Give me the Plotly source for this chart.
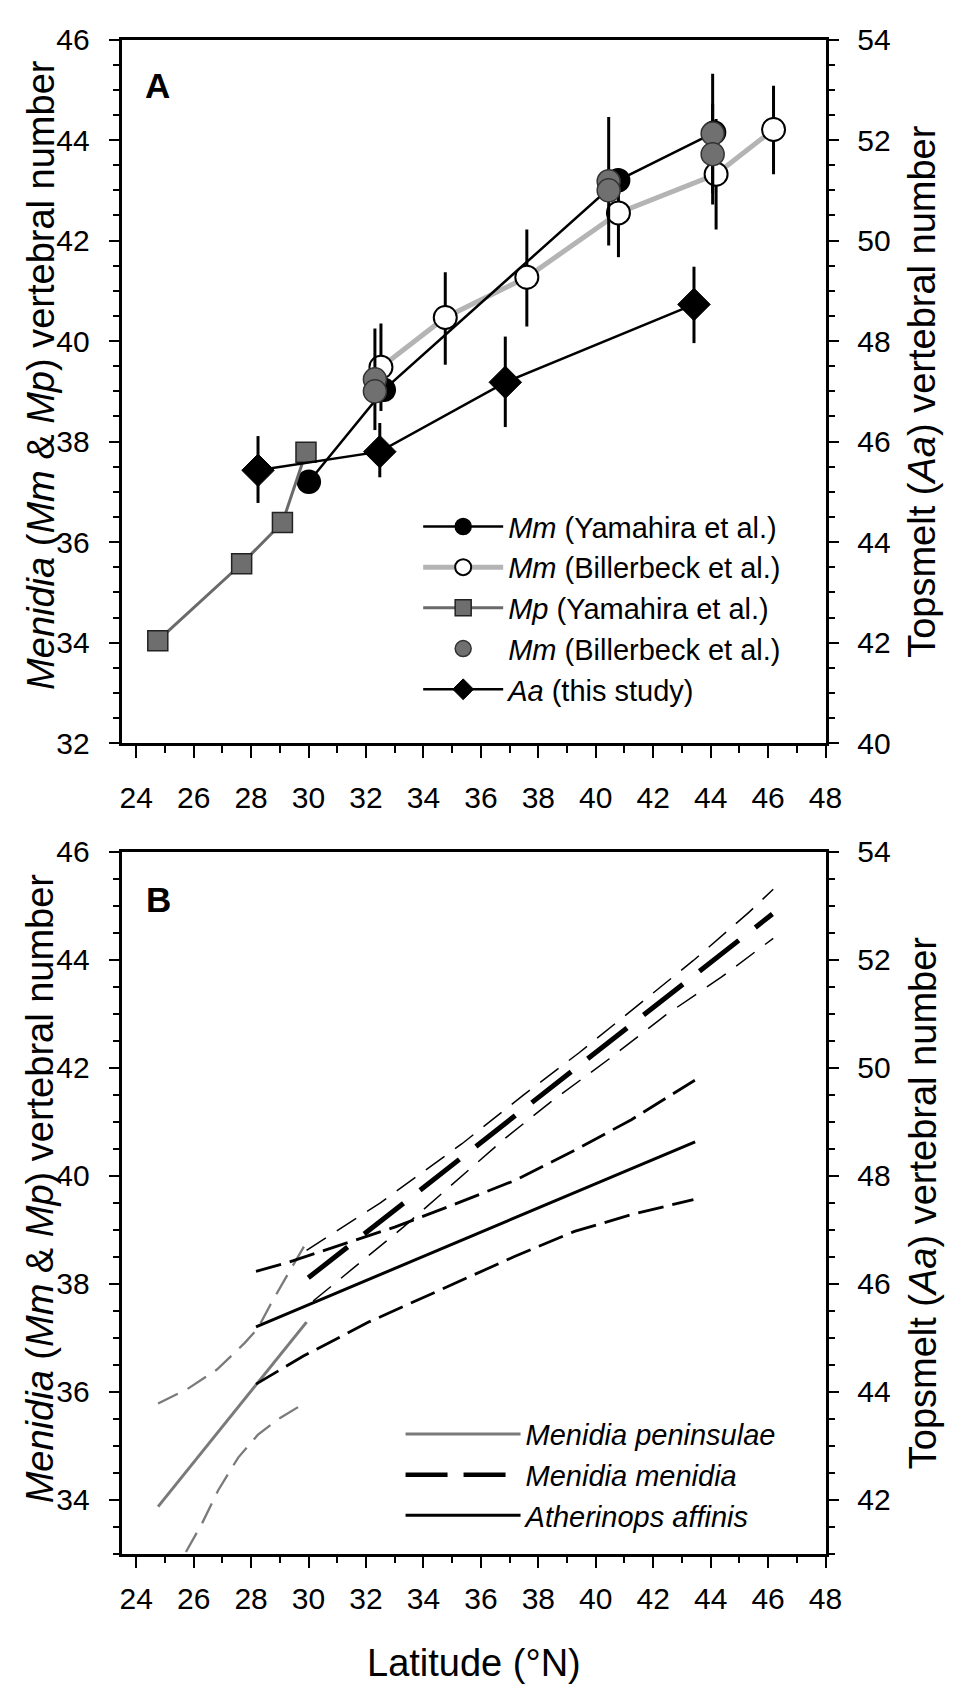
import plotly.graph_objects as go

FONT = "Liberation Sans, Arial, sans-serif"
W, H = 961, 1700

# ---------------- Panel A data ----------------
lat_mm_yam = [30.01, 32.62, 40.78, 44.12]
vn_mm_yam = [37.20, 39.03, 43.20, 44.15]

lat_mm_bil = [32.52, 34.76, 37.60, 40.79, 44.19, 46.19]
vn_mm_bil = [39.48, 40.47, 41.27, 42.55, 43.32, 44.21]
err_up_mm_bil = [0.87, 0.90, 0.95, 0.88, 1.10, 0.87]
err_dn_mm_bil = [0.87, 0.94, 0.98, 0.88, 1.10, 0.89]

lat_mp_yam = [24.75, 27.67, 29.09, 29.91]
vn_mp_yam = [34.04, 35.57, 36.39, 37.79]

lat_mm_bil2 = [32.31, 32.31, 40.45, 40.45, 44.07, 44.07]
vn_mm_bil2 = [39.24, 39.00, 43.18, 43.00, 44.13, 43.72]
err_mm_bil2 = [1.01, 0.0, 1.28, 0.0, 1.19, 1.00]

lat_aa = [28.24, 32.48, 36.85, 43.42]
vn_aa = [45.43, 45.80, 47.18, 48.73]          # right axis (Aa)
err_up_aa = [0.68, 0.57, 0.91, 0.75]
err_dn_aa = [0.65, 0.51, 0.89, 0.77]

# ---------------- Panel B data ----------------
lat_mp_fit = [24.76, 29.93]
vn_mp_fit = [33.87, 37.29]
lat_mp_ci_up = [24.76, 25.78, 26.81, 27.77, 28.23, 28.68, 29.14, 29.93]
vn_mp_ci_up = [35.78, 36.05, 36.41, 36.90, 37.17, 37.62, 38.05, 38.77]
lat_mp_ci_lo = [25.73, 26.30, 26.86, 27.55, 28.23, 28.91, 29.93]
vn_mp_ci_lo = [33.03, 33.57, 34.18, 34.78, 35.20, 35.48, 35.81]

lat_mm_fit = [29.99, 46.15]
vn_mm_fit = [38.11, 44.85]
lat_mm_ci_up = [29.93, 32.50, 35.33, 37.49, 39.42, 41.41, 43.40, 45.33, 46.18]
vn_mm_ci_up = [38.62, 39.50, 40.59, 41.50, 42.28, 43.13, 43.99, 44.88, 45.31]
lat_mm_ci_lo = [30.16, 33.30, 36.81, 38.46, 40.45, 42.44, 44.37, 46.18]
vn_mm_ci_lo = [37.68, 39.05, 40.68, 41.38, 42.16, 42.98, 43.68, 44.40]

lat_aa_fit = [28.17, 43.46]
vn_aa_fit = [45.20, 48.63]                     # right axis (Aa)
lat_aa_ci_up = [28.17, 29.31, 31.41, 33.00, 34.93, 37.21, 39.26, 41.24, 43.45]
vn_aa_ci_up = [46.23, 46.40, 46.77, 47.05, 47.44, 47.92, 48.47, 49.04, 49.77]
lat_aa_ci_lo = [28.17, 29.82, 32.09, 34.14, 37.15, 39.26, 41.30, 43.40]
vn_aa_ci_lo = [44.14, 44.66, 45.29, 45.78, 46.50, 46.97, 47.29, 47.56]

# ---------------- figure ----------------
fig = go.Figure()

def err(up, dn=None):
    d = dict(type="data", array=up, thickness=3, width=0, color="black")
    if dn is not None:
        d.update(symmetric=False, arrayminus=dn)
    return d

# Panel A traces
fig.add_trace(go.Scatter(
    x=lat_mm_bil, y=vn_mm_bil, mode="lines+markers", xaxis="x", yaxis="y",
    name="<i>Mm</i> (Billerbeck et al.)", legend="legend", legendrank=2,
    line=dict(color="#b4b4b4", width=5),
    marker=dict(symbol="circle", size=23, color="white", line=dict(color="black", width=2)),
    error_y=err(err_up_mm_bil, err_dn_mm_bil)))
fig.add_trace(go.Scatter(
    x=lat_mm_yam, y=vn_mm_yam, mode="lines+markers", xaxis="x", yaxis="y",
    name="<i>Mm</i> (Yamahira et al.)", legend="legend", legendrank=1,
    line=dict(color="black", width=2.5),
    marker=dict(symbol="circle", size=23, color="black", line=dict(color="black", width=1.5))))
fig.add_trace(go.Scatter(
    x=lat_mp_yam, y=vn_mp_yam, mode="lines+markers", xaxis="x", yaxis="y",
    name="<i>Mp</i> (Yamahira et al.)", legend="legend", legendrank=3,
    line=dict(color="#6a6a6a", width=3),
    marker=dict(symbol="square", size=20, color="#6e6e6e", line=dict(color="#222", width=1.5))))
fig.add_trace(go.Scatter(
    x=lat_mm_bil2, y=vn_mm_bil2, mode="markers", xaxis="x", yaxis="y",
    name="<i>Mm</i> (Billerbeck et al.)", legend="legend", legendrank=4,
    marker=dict(symbol="circle", size=23, color="#707070", line=dict(color="#333", width=1.5)),
    error_y=err(err_mm_bil2)))
fig.add_trace(go.Scatter(
    x=lat_aa, y=vn_aa, mode="lines+markers", xaxis="x", yaxis="y2",
    name="<i>Aa</i> (this study)", legend="legend", legendrank=5,
    line=dict(color="black", width=2.5),
    marker=dict(symbol="diamond", size=25, color="black", line=dict(color="black", width=1)),
    error_y=err(err_up_aa, err_dn_aa)))

# Panel B traces
GRAY = "#7a7a7a"
fig.add_trace(go.Scatter(x=lat_mp_ci_up, y=vn_mp_ci_up, mode="lines", xaxis="x2", yaxis="y3",
                         showlegend=False, line=dict(color=GRAY, width=2.3, dash="22px,11px")))
fig.add_trace(go.Scatter(x=lat_mp_ci_lo, y=vn_mp_ci_lo, mode="lines", xaxis="x2", yaxis="y3",
                         showlegend=False, line=dict(color=GRAY, width=2.3, dash="22px,11px")))
fig.add_trace(go.Scatter(x=lat_mp_fit, y=vn_mp_fit, mode="lines", xaxis="x2", yaxis="y3",
                         name="<i>Menidia peninsulae</i>", legend="legend2", legendrank=1,
                         line=dict(color=GRAY, width=3)))
fig.add_trace(go.Scatter(x=lat_mm_ci_up, y=vn_mm_ci_up, mode="lines", xaxis="x2", yaxis="y3",
                         showlegend=False, line=dict(color="black", width=1.5, dash="23px,13px")))
fig.add_trace(go.Scatter(x=lat_mm_ci_lo, y=vn_mm_ci_lo, mode="lines", xaxis="x2", yaxis="y3",
                         showlegend=False, line=dict(color="black", width=1.5, dash="23px,13px")))
fig.add_trace(go.Scatter(x=lat_mm_fit, y=vn_mm_fit, mode="lines", xaxis="x2", yaxis="y3",
                         showlegend=False, line=dict(color="black", width=5, dash="50px,21px")))
# legend key only (no data) for the long-dashed M. menidia line
fig.add_trace(go.Scatter(x=[None], y=[None], mode="lines", xaxis="x2", yaxis="y3",
                         name="<i>Menidia menidia</i>", legend="legend2", legendrank=2,
                         line=dict(color="black", width=4.5, dash="42px,16px")))
fig.add_trace(go.Scatter(x=lat_aa_ci_up, y=vn_aa_ci_up, mode="lines", xaxis="x2", yaxis="y4",
                         showlegend=False, line=dict(color="black", width=2.8, dash="26px,9px")))
fig.add_trace(go.Scatter(x=lat_aa_ci_lo, y=vn_aa_ci_lo, mode="lines", xaxis="x2", yaxis="y4",
                         showlegend=False, line=dict(color="black", width=2.8, dash="26px,9px")))
fig.add_trace(go.Scatter(x=lat_aa_fit, y=vn_aa_fit, mode="lines", xaxis="x2", yaxis="y4",
                         name="<i>Atherinops affinis</i>", legend="legend2", legendrank=3,
                         line=dict(color="black", width=3)))

# ---------------- axes ----------------
xd = [122 / W, 840 / W]
dA = [1 - 741 / H, 1 - 23 / H]
dB = [1 - 1568 / H, 1 - 852 / H]

tickfont = dict(family=FONT, size=30, color="black")

def xax(anchor, standoff):
    return dict(domain=xd, anchor=anchor, range=[23.52, 48], tickmode="linear", tick0=24, dtick=2,
                ticks="outside", ticklen=12, tickwidth=2, tickcolor="black",
                showline=True, linewidth=2.5, linecolor="black", mirror=True,
                showgrid=False, zeroline=False, tickfont=tickfont, ticklabelstandoff=standoff,
                minor=dict(dtick=1, tick0=24, ticks="outside", ticklen=7, tickwidth=2,
                           tickcolor="black", showgrid=False))

def yax(domain, rng, tick0, side, anchor, overlaying=None, standoff=10):
    d = dict(domain=domain, anchor=anchor, range=rng, tickmode="linear", tick0=tick0, dtick=2,
             ticks="outside", ticklen=11, tickwidth=2, tickcolor="black", side=side,
             showline=True, linewidth=2.5, linecolor="black",
             showgrid=False, zeroline=False, tickfont=tickfont, ticklabelstandoff=standoff,
             minor=dict(dtick=0.5, tick0=tick0, ticks="outside", ticklen=7, tickwidth=2,
                        tickcolor="black", showgrid=False))
    if overlaying:
        d["overlaying"] = overlaying
    return d

legfont = dict(family=FONT, size=29, color="black")
fig.update_layout(
    width=W, height=H, margin=dict(l=0, r=0, t=0, b=0),
    paper_bgcolor="white", plot_bgcolor="white",
    font=dict(family=FONT, color="black"),
    xaxis=xax("y", 14),
    yaxis=yax(dA, [32, 46], 32, "left", "x", standoff=13),
    yaxis2=yax(dA, [40, 54], 40, "right", "x", overlaying="y", standoff=12),
    xaxis2=xax("y3", 5),
    yaxis3=yax(dB, [33, 46], 32, "left", "x2", standoff=13),
    yaxis4=yax(dB, [41, 54], 40, "right", "x2", overlaying="y3", standoff=12),
    legend=dict(x=424 / W, xanchor="left", y=1 - 494 / H, yanchor="top",
                font=legfont, bgcolor="rgba(0,0,0,0)", itemwidth=80,
                itemsizing="trace", traceorder="normal", tracegroupgap=0),
    legend2=dict(x=406 / W, xanchor="left", y=1 - 1420 / H, yanchor="top",
                 font=legfont, bgcolor="rgba(0,0,0,0)", itemwidth=115,
                 traceorder="normal", tracegroupgap=0),
    showlegend=True,
)

def ann(text, x, y, size, angle=0, bold=False):
    fig.add_annotation(text=f"<b>{text}</b>" if bold else text, x=x / W, y=1 - y / H,
                       xref="paper", yref="paper", showarrow=False, textangle=angle,
                       xanchor="center", yanchor="middle",
                       font=dict(family=FONT, size=size, color="black"))

ann("A", 158, 70, 35, bold=True)
ann("B", 159, 900, 35, bold=True)
ylab_left = "<i>Menidia</i> (<i>Mm</i> &amp; <i>Mp</i>) vertebral number"
ylab_right = "Topsmelt (<i>Aa</i>) vertebral number"
ann(ylab_left, 38, 365, 38, angle=-90)
ann(ylab_right, 939, 382, 38, angle=-90)
ann(ylab_left, 38, 1195, 38, angle=-90)
ann(ylab_right, 939, 1210, 38, angle=-90)
ann("Latitude (°N)", 481, 1680, 38)

fig.write_html("out.html")
